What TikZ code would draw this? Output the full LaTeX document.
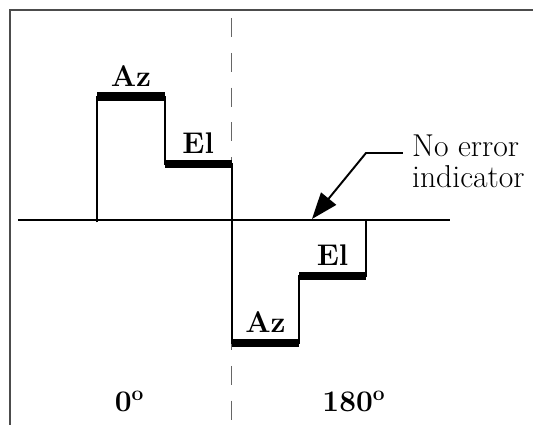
\documentclass[tikz,border=0pt]{standalone}
\usepackage{amsmath}
\usepackage{tikz}
\usetikzlibrary{arrows.meta}
\definecolor{framegray}{gray}{0.3}
\definecolor{dashgray}{gray}{0.4}

\begin{document}
\begin{tikzpicture}[scale=0.2,
            thinline/.style={line width=1.1pt},
            bar/.style={line width=4.8pt},
            lbl/.style={font=\fontsize{17}{20}\selectfont\bfseries},
            note/.style={font=\fontsize{18}{17.5}\selectfont, align=left, inner sep=5pt},
            pointer/.style={line width=1.1pt, -{Triangle[length=15pt,width=11pt]}}]
            \useasboundingbox (-23.17,-20.5) rectangle (30.13,22);
            \draw[framegray,line width=1.1pt] (30.13,21) -- (-22.17,21) -- (-22.17,-20.5);
            \draw[dashgray,line width=0.6pt,dash pattern=on 10.8pt off 9pt] (0,20.2) -- (0,-20.5);
            \draw[thinline] (-21.37,0) -- (21.83,0);
            \draw[thinline] (-13.45,-0.25) -- (-13.45,12.35) -- (-6.7,12.35) -- (-6.7,5.6) -- (0,5.6)
                -- (0,-12.3) -- (6.75,-12.3) -- (6.75,-5.6) -- (13.43,-5.6) -- (13.43,0);
            \draw[bar] (-13.45,12.35) -- (-6.7,12.35) node[midway,above,lbl] (azup) {Az};
            \draw[bar] (-6.7,5.6) -- (0,5.6) node[midway,above,lbl] (elup) {El};
            \draw[bar] (0,-12.3) -- (6.75,-12.3) node[midway,above,lbl] (azlow) {Az};
            \draw[bar] (6.75,-5.6) -- (13.43,-5.6) node[midway,above,lbl] (ellow) {El};
            \draw (-10.22,-19.17) node[anchor=base,lbl] (zero) {0\textsuperscript{o}};
            \draw (12.23,-19.17) node[anchor=base,lbl] (half) {180\textsuperscript{o}};
            \node[note,anchor=west] (noerr) at (17.13,5.87) {No error\\indicator};
            \coordinate (bend) at (13.43,6.7);
            \coordinate (tip) at (8.03,0.1);
            \draw[pointer] (noerr.west |- bend) -- (bend) -- (tip);
        \end{tikzpicture}
\end{document}
